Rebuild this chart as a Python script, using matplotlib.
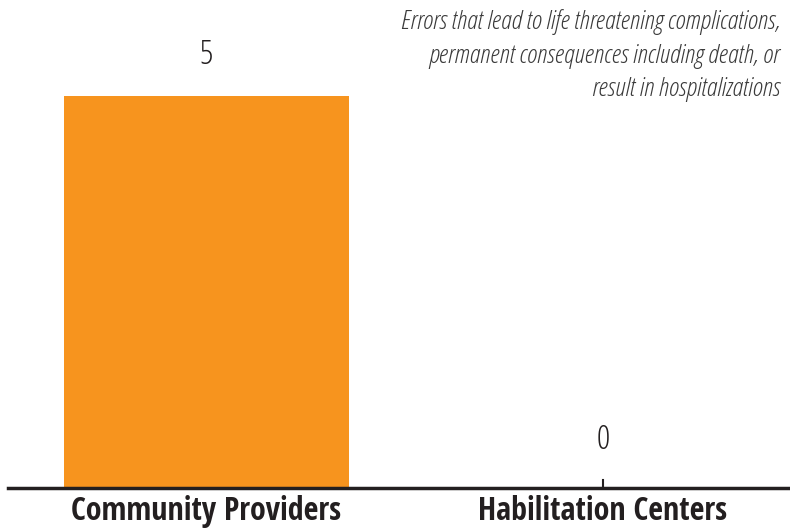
import matplotlib
matplotlib.use('Agg')
import matplotlib.pyplot as plt

# Data
categories = ['Community Providers', 'Habilitation Centers']
errors = [5, 0]
note = ('Errors that lead to life threatening complications,\n'
        'permanent consequences including death, or\n'
        'result in hospitalizations')

fig = plt.figure(figsize=(7.9, 5.29), dpi=100)
ax = fig.add_axes([0.0101, 1 - 488 / 529, 1 - 0.0101, 488 / 529])

x = list(range(len(categories)))
ax.bar(x, errors, width=0.72, color='#F7941E')

# Value labels
for xi, v in zip(x, errors):
    ax.annotate(str(v), (xi, v), xytext=(0, 17 if v > 0 else 22), textcoords='offset points',
                ha='center', va='bottom', fontsize=24, color='#231F20',
                family=['Open Sans', 'DejaVu Sans'], fontstretch='condensed', fontweight=300)

ax.set_xlim(-0.5, 1.4716)
ax.set_ylim(0, 488 / 78.4)
ax.set_xticks(x)
ax.set_xticklabels(categories, fontsize=23, fontweight='bold', color='#231F20',
                   family=['Open Sans Condensed', 'DejaVu Sans'], fontstretch='condensed')
ax.tick_params(axis='x', length=0, pad=5)
ax.set_yticks([])
for side in ['top', 'right', 'left']:
    ax.spines[side].set_visible(False)
ax.spines['bottom'].set_linewidth(2.5)
ax.spines['bottom'].set_color('#231F20')

# small tick on the empty category
ax.plot([1, 1], [0, 8 / 78.4], color='#231F20', linewidth=1.5, clip_on=False)

fig.text(780 / 790, 1 - 9 / 529, note, ha='right', va='top', fontsize=19, style='italic',
         fontweight=300, fontstretch='condensed', color='#3A3A3A', linespacing=1.45,
         family=['Open Sans', 'DejaVu Sans'])

fig.savefig('out.png', dpi=100)
